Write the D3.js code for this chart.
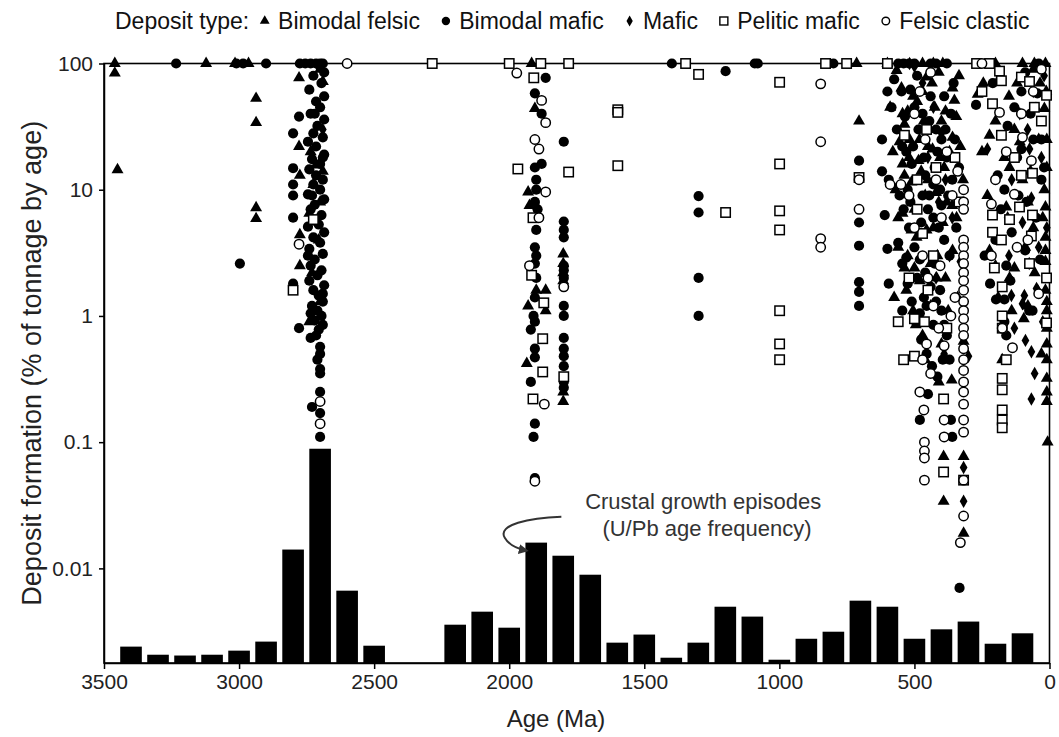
<!DOCTYPE html>
<html>
<head>
<meta charset="utf-8">
<script src="https://cdn.jsdelivr.net/npm/d3@7"></script>
<style>
  body { margin: 0; background: #fff; }
  svg text { font-family: "Liberation Sans", Arial, sans-serif; }
</style>
</head>
<body>
<svg></svg>
<script>
  let w = 1059;
  let h = 737;

// Histogram of U/Pb ages (bar centre age, Ma)
const barAges = [3400, 3300, 3200, 3100, 3000, 2900, 2800, 2700, 2600, 2500,
  2200, 2100, 2000, 1900, 1800, 1700, 1600, 1500, 1400, 1300, 1200, 1100, 1000,
  900, 800, 700, 600, 500, 400, 300, 200, 100];
const barValues = [0.0024, 0.00207, 0.00204, 0.00207, 0.00223, 0.00263, 0.0141, 0.0887, 0.00666, 0.00244,
  0.00358, 0.00454, 0.00339, 0.016, 0.0126, 0.00891, 0.00258, 0.00299, 0.00196, 0.00258, 0.00497, 0.00415, 0.00189,
  0.00277, 0.00315, 0.00555, 0.00497, 0.00277, 0.00329, 0.00379, 0.00253, 0.00306];

const xTicks = [3500, 3000, 2500, 2000, 1500, 1000, 500, 0];
const yTicks = [100, 10, 1, 0.1, 0.01];

// [age Ma, % of tonnage by age]
const bimodalFelsic = [
  [3460,100],[3460,84],[3450,14.4],[3122,100],[3015,100],[2965,100],[2937,53],[2937,34],[2937,7.2],[2937,5.9],
  [2778,77],[2778,22],[2775,13],[2775,4.4],[2775,2.5],
  [2700,90],[2690,72],[2735,20],[2715,15.7],[2690,14],[2725,11],[2700,8],[2740,6.5],[2705,4],[2730,2.2],[2700,1.3],[2740,0.9],
  [1917,100],[1905,44],[1930,9.6],[1925,7.5],[1900,1.6],[1865,1.6],[1930,1.2],[1865,1.1],[1935,0.42],
  [1800,3.1],[1800,2.6],[1800,2.2],[1800,1.9],[1800,0.25],[1800,0.21],
  [714,100],[705,35],
  [600,100],[470,100],[430,100],[395,100],[566,88],[548,64],[544,40],[537,33],[518,25],[481,25],[544,16],[537,13],
  [511,11.5],[544,6.5],[511,4.8],[537,2.4],[455,78],[444,30],[433,21],[418,2],[492,4.2],[470,60],[425,45],[410,85],
  [400,35],[390,15],[380,8],[460,9],[475,14],[500,7],[520,18],[560,3.5],[560,6],[530,1.6],[505,1.1],[470,0.7],
  [400,0.6],[460,0.45],[410,0.3],[362,0.31],[392,0.077],[392,0.034],[318,0.077],[318,0.019],[318,0.63],[359,64],
  [352,51],[359,26],[344,6],[359,3.3],[340,1.4],[330,22],[320,12],[490,50],[450,12],[430,5],[415,3],[480,1.9],
  [440,1.2],[495,0.85],[580,20],[575,1.4],
  [590,45],[570,10],[555,24],[525,42],[505,55],[485,17],[465,35],[450,22],[435,70],[420,9.5],[405,18],[385,42],
  [370,20],[345,38],[335,80],[525,3],[500,2.4],[455,4.8],[440,2.6],[395,5.5],[385,2],[375,1.1],[360,7.5],
  [266,57],[250,20],[222,27],[167,18],[148,15],[56,100],[15,100],[100,100],[200,100],[19,44],[19,10],[15,7.3],
  [160,7.3],[80,8],[15,4.2],[15,3.3],[15,2.7],[15,1.6],[222,3.3],[130,2.4],[148,2],[175,0.45],[10,1.3],[10,1.1],
  [10,0.8],[10,0.6],[10,0.45],[10,0.32],[10,0.25],[10,0.21],[7,0.1],[60,90],[180,80],[120,70],[50,44],[100,12],
  [60,5],[190,1.4],[80,1.2],[30,0.5],[245,70],[40,25],[130,30],[90,3.5],[10,15],[10,25],[12,60],
  [230,9],[200,35],[150,55],[110,24],[70,14],[35,70],[25,6],[140,1.1],[55,2.2],[95,0.95]
];
const bimodalMafic = [
  [3233,100],[3010,100],[2985,100],[2900,100],[2775,100],[2755,100],[2735,100],[2715,100],[2700,100],[2690,100],[2997,2.6],
  [2778,38],[2800,28],[2800,14.8],[2800,11],[2800,9],[2800,6],[2800,1.8],[2778,0.8],
  [2700,95],[2685,85],[2725,80],[2695,70],[2740,62],[2685,55],[2715,50],[2700,45],[2735,40],[2685,36],[2710,32],
  [2725,28],[2690,26],[2745,24],[2715,22],[2685,19],[2730,17.5],[2700,16],[2740,14.5],[2715,13],[2690,12],[2725,11],
  [2700,10],[2745,9.2],[2685,8.4],[2720,7.6],[2735,7],[2695,6.3],[2715,5.6],[2745,5.1],[2685,4.6],[2725,4.2],
  [2700,3.8],[2740,3.4],[2690,3.1],[2720,2.8],[2735,2.5],[2695,2.3],[2710,2.1],[2740,1.9],[2685,1.75],[2725,1.6],
  [2705,1.45],[2690,1.3],[2730,1.2],[2710,1.1],[2695,1.0],[2720,0.92],[2690,0.85],[2705,0.78],[2735,0.67],[2700,0.57],
  [2700,0.5],[2700,0.38],[2700,0.35],[2700,0.25],[2730,0.19],[2700,0.17],[2700,0.11],
  [2720,40],[2690,18],[2730,9],[2705,5.3],[2745,3],[2690,1.5],[2735,1.05],[2715,0.7],[2710,0.45],
  [1865,77],[1905,58],[1880,40],[1798,24],[1905,15],[1880,16],[1900,12],[1900,10],[1905,8],[1895,7],[1900,4.8],
  [1905,3.5],[1798,4.8],[1798,4.2],[1798,5.6],[1798,2.5],[1798,2.3],[1798,2],[1905,2.6],[1905,1.4],[1910,1.0],
  [1905,0.9],[1920,0.78],[1905,0.55],[1905,0.47],[1920,0.3],[1905,0.14],[1910,0.11],[1905,0.052],[1798,1.2],
  [1798,1.0],[1798,0.67],[1798,0.55],[1798,0.48],[1798,0.4],[1798,0.3],[1798,0.27],[1890,6],[1900,3],[1900,2],
  [1398,100],[1199,87],[1091,100],[1080,100],[800,100],[1299,8.9],[1299,6.6],[1299,2.0],[1299,1.0],
  [705,17],[705,5.5],[705,3.6],[705,1.85],[705,1.55],[705,1.2],
  [560,100],[540,100],[520,100],[500,100],[440,100],[420,100],[380,100],
  [548,60],[515,62],[500,45],[470,40],[440,55],[420,30],[400,25],[380,18],[360,12],[345,5],
  [530,20],[510,16],[490,12],[470,9],[450,7],[430,6],[410,5],[390,4],[370,3],[555,9],[540,7],[520,5],[500,3.5],
  [480,2.8],[460,2.2],[440,1.7],[420,1.3],[400,1.1],[560,3.8],[545,2.6],[525,1.8],[510,1.3],[495,0.9],[475,0.65],
  [455,0.5],[435,0.4],[415,0.33],[450,0.24],[480,0.15],[455,1.2],[380,0.7],[370,0.45],[365,0.15],[360,0.11],
  [333,0.007],[600,3.4],[610,6.3],[595,12],[620,25],
  [585,45],[565,30],[545,22],[525,10],[505,22],[485,30],[465,18],[445,9],[425,15],[405,10],[385,30],[365,40],
  [350,25],[335,15],[600,60],[620,14],[595,1.8],[545,1.1],[430,0.85],[395,0.45],
  [575,75],[535,38],[490,80],[475,5.5],[460,13],[445,35],[430,11],[415,20],[400,7.5],[390,55],[375,9],[355,70],
  [530,2.9],[515,8],[490,2],[465,1.4],[425,2.6],[405,1.6],[390,0.85],[480,1.05],
  [266,100],[240,100],[40,100],[272,47],[155,32],[104,60],[45,58],[104,21],[30,25],[192,13],[167,10],[85,8],
  [140,4.6],[90,3.3],[160,2.5],[63,1.1],[198,1.35],[167,1.35],[167,0.9],[160,0.7],[75,1.1],[30,12],[60,25],
  [130,45],[20,15],[50,6],[180,7],[120,18],[200,4],[240,3],[220,1.8],
  [210,70],[90,85],[115,9],[70,40],[145,1.9],[35,2.8]
];
const mafic = [
  [2690,30],
  [518,100],[500,95],[470,70],[430,45],[400,28],[385,12],[360,6],[450,18],[410,8],[370,3],[330,2.7],[315,1.1],
  [318,0.063],[318,0.034],[300,0.48],[390,0.5],[420,2],
  [200,2.5],[230,21],[81,30],[74,21],[67,8.6],[100,5.5],[100,1.25],[48,1.65],[30,18],[141,1.45],[93,1.45],
  [44,1.6],[89,0.64],[67,0.52],[67,0.22],[140,12],[110,40],[60,60],[20,80],[150,3],[40,3.5],[10,5],[25,0.9],
  [55,0.35],[75,2.6],[130,0.8],[155,6]
];
const peliticMafic = [
  [2725,5.8],[2800,1.6],[2285,100],[2000,100],[1883,100],[1780,100],[1968,14.6],[1909,77],[1780,13.8],
  [1912,6],[1917,2.1],[1872,1.27],[1876,0.66],[1876,0.36],[1912,0.22],[1798,0.33],
  [1347,100],[1299,82],[999,71],[1598,43],[1598,41],[1598,15.5],[1199,6.6],[999,16],[999,6.8],[999,4.8],
  [999,1.1],[999,0.6],[999,0.45],[829,100],[751,100],[705,12.5],[600,100],
  [537,27],[520,2],[490,7],[470,4.5],[500,0.95],[500,0.48],[463,0.9],[392,0.22],[392,0.058],[318,0.05],
  [490,12],[455,30],[420,15],[560,0.9],[540,0.45],[430,3],[450,1.6],[380,0.8],[350,18],[335,8],
  [270,100],[222,100],[185,87],[178,73],[104,78],[74,72],[11,56],[56,45],[211,48],[178,27],[104,13],[63,13.5],
  [111,7.3],[63,6.3],[211,6.3],[148,5.8],[211,4.6],[67,4.3],[178,4],[204,2.4],[74,2.6],[175,1.7],[11,2],
  [11,0.88],[175,0.8],[175,0.32],[175,0.26],[175,0.18],[175,0.15],[175,0.13],[175,1.0],[160,0.45],[250,60],
  [30,35],[130,18]
];
const felsicClastic = [
  [2600,100],[2778,3.7],[2700,0.21],[2700,0.14],[1972,84],[1880,51],[1865,34],[1905,25],[1890,21],[1865,9.6],
  [1890,6],[1925,2.5],[1798,1.7],[1870,0.2],[1905,0.049],[847,69],[847,24],[847,4.1],[847,3.5],[705,12],[705,7],
  [463,0.1],[463,0.085],[463,0.075],[463,0.05],[390,0.15],[390,0.11],
  [318,10],[318,8],[318,7],[318,4],[318,3.5],[318,3],[318,2.6],[318,2.2],[318,1.9],[318,1.6],[318,1.3],[318,1.1],
  [318,0.95],[318,0.8],[318,0.7],[318,0.55],[318,0.45],[318,0.37],[318,0.3],[318,0.25],[318,0.2],[318,0.15],
  [318,0.12],[318,0.05],[318,0.026],[330,0.016],
  [500,40],[480,60],[460,25],[440,85],[420,12],[400,6],[380,20],[360,9],[470,3],[450,2],[430,1.2],[410,0.8],
  [455,0.6],[440,0.35],[470,0.45],[480,0.25],[465,0.18],[520,9],[500,5],[550,11],[590,11],[390,0.58],[405,2.5],
  [340,14],[350,1.4],[365,1.0],
  [185,41],[104,40],[100,26],[67,17],[130,9.2],[215,7.7],[120,3.5],[175,0.8],[137,0.56],[215,3],[60,60],
  [30,90],[160,20],[250,100],[200,12],[80,4],[40,1.5]
];

const svg = d3.select('svg')
  .attr('width', w)
  .attr('height', h)

// Create Scales
const xScale = d3.scaleLinear()
  .domain([3500, 0])
  .range([104, 1049.5])

const yScale = d3.scaleLog()
  .domain([0.00178, 100])
  .range([663, 63.5])

// Draw Bars
svg.selectAll('rect.bar')
  .data(barAges)
  .enter()
  .append('rect')
  .attr('class', 'bar')
  .attr('x', d => xScale(d + 40))
  .attr('width', d => xScale(d - 40) - xScale(d + 40))
  .attr('y', (d, i) => yScale(barValues[i]))
  .attr('height', (d, i) => yScale.range()[0] - yScale(barValues[i]))
  .attr('fill', '#000')

// Frame
svg.append('rect')
  .attr('x', xScale(3500))
  .attr('y', yScale(100))
  .attr('width', xScale(0) - xScale(3500))
  .attr('height', yScale.range()[0] - yScale(100))
  .attr('fill', 'none')
  .attr('stroke', '#000')
  .attr('stroke-width', 1.6)

// Draw Points
const triangle = d3.symbol(d3.symbolTriangle, 62)
const diamond = d3.symbol(d3.symbolDiamond, 52)

svg.append('g').selectAll('path')
  .data(bimodalFelsic)
  .enter()
  .append('path')
  .attr('d', triangle)
  .attr('transform', d => `translate(${xScale(d[0])},${yScale(d[1])})`)
  .attr('fill', '#000')

svg.append('g').selectAll('circle')
  .data(bimodalMafic)
  .enter()
  .append('circle')
  .attr('cx', d => xScale(d[0]))
  .attr('cy', d => yScale(d[1]))
  .attr('r', 5.1)
  .attr('fill', '#000')

svg.append('g').selectAll('path')
  .data(mafic)
  .enter()
  .append('path')
  .attr('d', diamond)
  .attr('transform', d => `translate(${xScale(d[0])},${yScale(d[1])})`)
  .attr('fill', '#000')

svg.append('g').selectAll('rect')
  .data(peliticMafic)
  .enter()
  .append('rect')
  .attr('x', d => xScale(d[0]) - 4.7)
  .attr('y', d => yScale(d[1]) - 4.7)
  .attr('width', 9.4)
  .attr('height', 9.4)
  .attr('fill', '#fff')
  .attr('stroke', '#000')
  .attr('stroke-width', 1.5)

svg.append('g').selectAll('circle')
  .data(felsicClastic)
  .enter()
  .append('circle')
  .attr('cx', d => xScale(d[0]))
  .attr('cy', d => yScale(d[1]))
  .attr('r', 4.7)
  .attr('fill', '#fff')
  .attr('stroke', '#000')
  .attr('stroke-width', 1.5)

// Draw Axes
const xAxis = d3.axisBottom(xScale)
  .tickValues(xTicks)
  .tickFormat(d3.format('d'))
  .tickSizeInner(6)
  .tickSizeOuter(0)
  .tickPadding(5)

svg.append('g')
  .attr('transform', 'translate(0,' + yScale.range()[0] + ')')
  .attr('id', 'x-axis')
  .call(xAxis)

const yAxis = d3.axisLeft(yScale)
  .tickValues(yTicks)
  .tickFormat(d3.format('~g'))
  .tickSizeInner(5)
  .tickSizeOuter(0)
  .tickPadding(6)

svg.append('g')
  .attr('transform', 'translate(' + xScale(3500) + ',0)')
  .attr('id', 'y-axis')
  .call(yAxis)

svg.selectAll('#x-axis text, #y-axis text')
  .attr('font-size', 21)
  .attr('fill', '#222')
svg.selectAll('#x-axis line, #y-axis line, #x-axis path, #y-axis path')
  .attr('stroke-width', 1.5)

// Axis titles
svg.append('text')
  .attr('x', 556)
  .attr('y', 727)
  .attr('text-anchor', 'middle')
  .attr('font-size', 24)
  .attr('fill', '#222')
  .text('Age (Ma)')

svg.append('text')
  .attr('transform', `translate(41,${(yScale(100) + yScale.range()[0]) / 2}) rotate(-90)`)
  .attr('text-anchor', 'middle')
  .attr('font-size', 27)
  .attr('fill', '#222')
  .text('Deposit formation (% of tonnage by age)')

// Annotation
svg.append('text')
  .attr('x', xScale(1282))
  .attr('y', yScale(0.0297))
  .attr('text-anchor', 'middle')
  .attr('font-size', 22)
  .attr('fill', '#333')
  .text('Crustal growth episodes')
svg.append('text')
  .attr('x', xScale(1268))
  .attr('y', yScale(0.0182))
  .attr('text-anchor', 'middle')
  .attr('font-size', 22)
  .attr('fill', '#333')
  .text('(U/Pb age frequency)')

svg.append('defs').append('marker')
  .attr('id', 'arrow')
  .attr('viewBox', '0 0 10 10')
  .attr('refX', 8).attr('refY', 5)
  .attr('markerWidth', 5).attr('markerHeight', 5)
  .attr('orient', 'auto')
  .append('path')
  .attr('d', 'M0,0L10,5L0,10z')
  .attr('fill', '#333')

const a0 = [xScale(1807), yScale(0.0257)]
const a1 = [xScale(1935), yScale(0.0138)]
const arrowPath = d3.path()
arrowPath.moveTo(a0[0], a0[1])
arrowPath.bezierCurveTo(a0[0] - 32, a0[1] + 1, a1[0] - 30, a1[1] - 26, a1[0] - 22, a1[1] - 13)
arrowPath.bezierCurveTo(a1[0] - 18, a1[1] - 6, a1[0] - 10, a1[1] - 2, a1[0], a1[1])
svg.append('path')
  .attr('d', arrowPath.toString())
  .attr('fill', 'none')
  .attr('stroke', '#333')
  .attr('stroke-width', 2)
  .attr('marker-end', 'url(#arrow)')

// Legend, spread so it runs from x=115 to x=1040
const legendItems = [
  ['tri', 'Bimodal felsic'], ['dot', 'Bimodal mafic'], ['dia', 'Mafic'],
  ['sq', 'Pelitic mafic'], ['ring', 'Felsic clastic']
]
const legend = svg.append('g').attr('transform', 'translate(115,29)')
const head = legend.append('text').attr('y', 0)
  .attr('font-size', 23).attr('fill', '#111').text('Deposit type:')
const labels = legendItems.map(([k, label]) => legend.append('text').attr('y', 0)
  .attr('font-size', 23).attr('fill', '#111').text(label))
const textW = head.node().getComputedTextLength() +
  d3.sum(labels, t => t.node().getComputedTextLength())
const gap = (1040 - 115 - textW - legendItems.length * 16) / legendItems.length
let lx = head.node().getComputedTextLength() + gap * 0.45
legendItems.forEach(([k, label], i) => {
  const cx = lx + 5, cy = -8
  if (k === 'tri') legend.append('path').attr('d', d3.symbol(d3.symbolTriangle, 42)).attr('transform', `translate(${cx},${cy})`)
  if (k === 'dot') legend.append('circle').attr('cx', cx).attr('cy', cy).attr('r', 4.2)
  if (k === 'dia') legend.append('path').attr('d', d3.symbol(d3.symbolDiamond, 34)).attr('transform', `translate(${cx},${cy})`)
  if (k === 'sq') legend.append('rect').attr('x', cx - 4).attr('y', cy - 4).attr('width', 8).attr('height', 8)
    .attr('fill', '#fff').attr('stroke', '#000').attr('stroke-width', 1.4)
  if (k === 'ring') legend.append('circle').attr('cx', cx).attr('cy', cy).attr('r', 3.8)
    .attr('fill', '#fff').attr('stroke', '#000').attr('stroke-width', 1.4)
  labels[i].attr('x', lx + 16 + gap * 0.1)
  lx += 16 + gap * 0.1 + labels[i].node().getComputedTextLength() + gap * 0.9
})
</script>
</body>
</html>
